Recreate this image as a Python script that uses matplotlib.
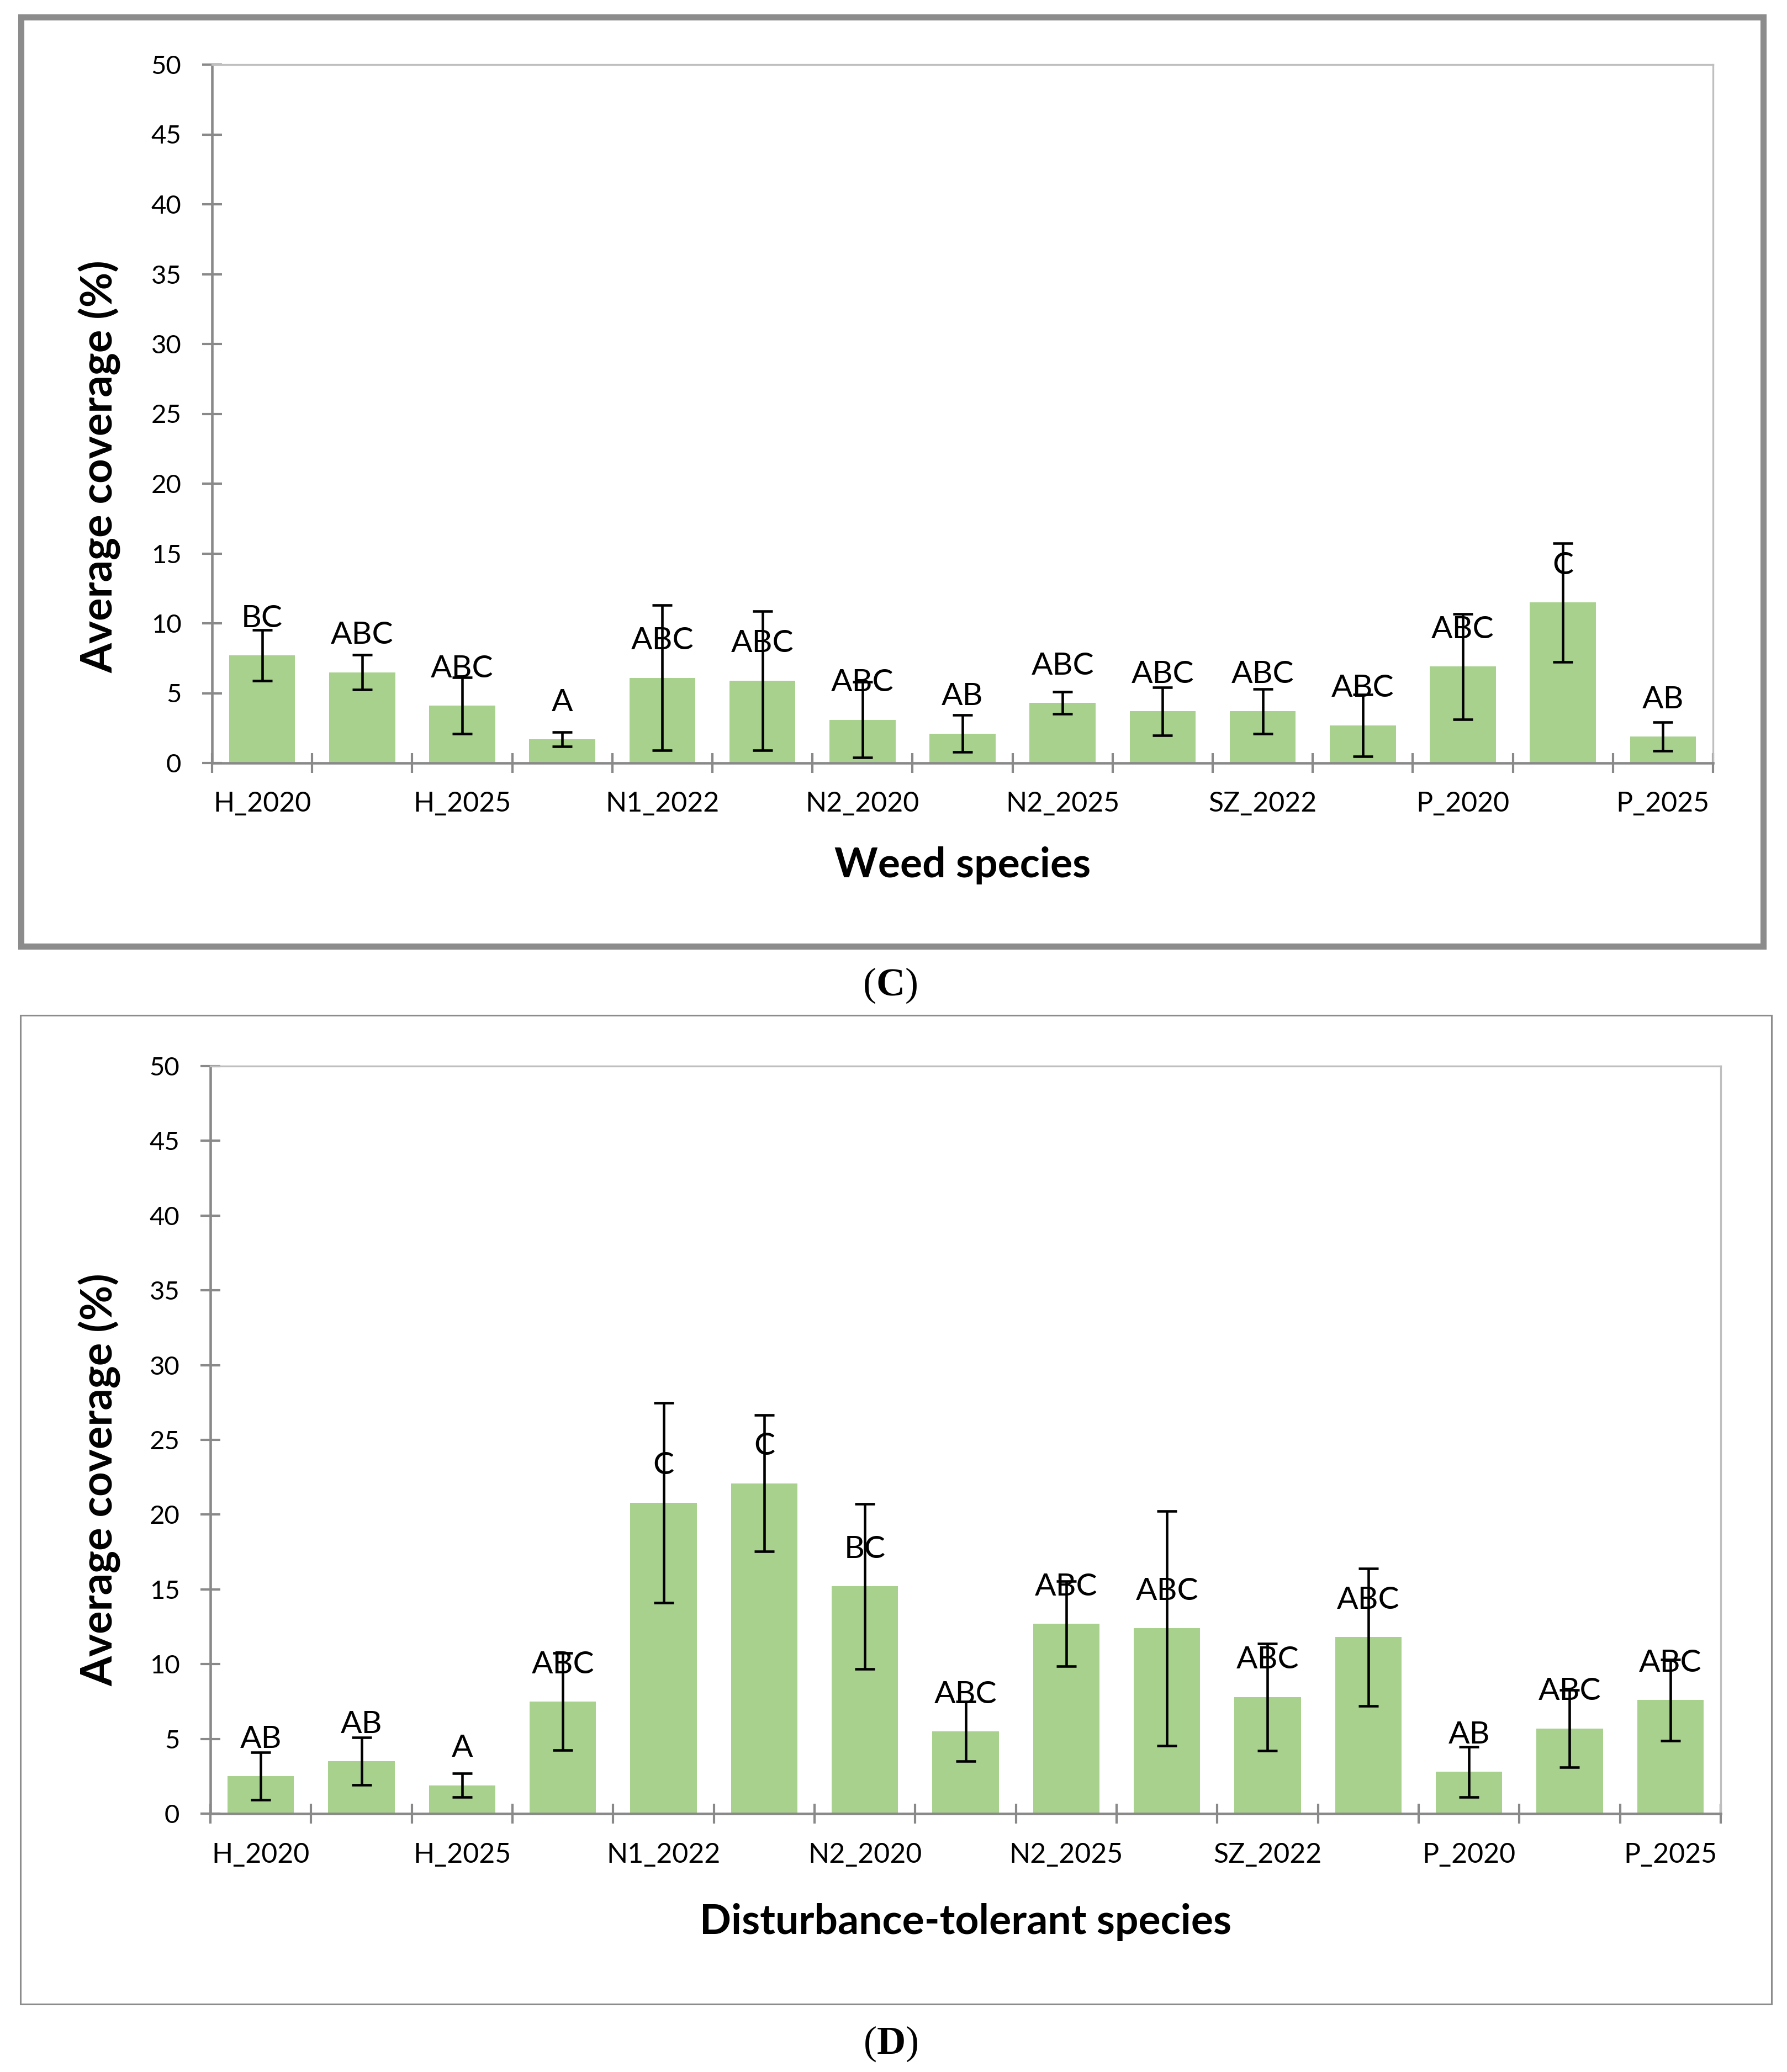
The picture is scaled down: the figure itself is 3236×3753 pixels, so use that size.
import numpy as np
import matplotlib
matplotlib.use("Agg")
import matplotlib.pyplot as plt
from matplotlib.patches import Rectangle

plt.rcParams['font.family'] = ['Lato', 'DejaVu Sans']
plt.rcParams['mathtext.fontset'] = 'custom'
plt.rcParams['mathtext.rm'] = 'Liberation Serif'
plt.rcParams['mathtext.bf'] = 'Liberation Serif:bold'

# data
categories = ['H_2020', 'H_2022', 'H_2025', 'N1_2020', 'N1_2022', 'N1_2025',
              'N2_2020', 'N2_2022', 'N2_2025', 'SZ_2020', 'SZ_2022', 'SZ_2025',
              'P_2020', 'P_2022', 'P_2025']

weed_mean = [7.7, 6.5, 4.1, 1.7, 6.1, 5.9, 3.1, 2.1, 4.3, 3.7, 3.7, 2.7, 6.9, 11.5, 1.9]
weed_err = [1.83, 1.26, 2.01, 0.53, 5.20, 4.98, 2.71, 1.32, 0.80, 1.72, 1.59, 2.22, 3.77, 4.25, 1.03]
weed_letters = ['BC', 'ABC', 'ABC', 'A', 'ABC', 'ABC', 'ABC', 'AB', 'ABC', 'ABC',
                'ABC', 'ABC', 'ABC', 'C', 'AB']

dist_mean = [2.5, 3.5, 1.9, 7.5, 20.8, 22.1, 15.2, 5.5, 12.7, 12.4, 7.8, 11.8, 2.8, 5.7, 7.6]
dist_err = [1.59, 1.59, 0.80, 3.26, 6.68, 4.55, 5.51, 2.00, 2.83, 7.85, 3.58, 4.61, 1.68, 2.58, 2.72]
dist_letters = ['AB', 'AB', 'A', 'ABC', 'C', 'C', 'BC', 'ABC', 'ABC', 'ABC',
                'ABC', 'ABC', 'AB', 'ABC', 'ABC']

W, H = 3237, 3753
DPI = 100
BAR = '#A9D18E'
AXGRAY = '#898989'
LIGHT = '#BFBFBF'

fig = plt.figure(figsize=(W / DPI, H / DPI), dpi=DPI)


def px_rect(x0, y0, x1, y1):
    return [x0 / W, 1 - y1 / H, (x1 - x0) / W, (y1 - y0) / H]


def panel(rect_px, means, errs, letters, xlabel, ylab_y, xlab_y, tick_y):
    x0, y0, x1, y1 = rect_px
    ax = fig.add_axes(px_rect(x0, y0, x1, y1))
    x = np.arange(len(categories))
    ax.bar(x, means, width=0.66, color=BAR, zorder=2)
    ax.errorbar(x, means, yerr=errs, fmt='none', ecolor='black',
                elinewidth=3.3, capsize=13, capthick=3.3, zorder=3)
    for xi, m, lab in zip(x, means, letters):
        ax.annotate(lab, xy=(xi, m), xytext=(0, 37), textcoords='offset points',
                    ha='center', va='baseline', fontsize=41, zorder=4)

    ax.set_xlim(-0.5, len(categories) - 0.5)
    ax.set_ylim(0, 50)
    ax.set_yticks(np.arange(0, 51, 5))
    ax.set_xticks(np.arange(-0.5, len(categories), 1))
    ax.set_xticklabels([])
    ax.tick_params(axis='both', which='major', direction='inout', length=26,
                   width=3, color=AXGRAY, labelsize=34, pad=27)
    ax.tick_params(axis='y', labelcolor='black')

    for xi in x[::2]:
        ax.text(xi, -(tick_y - y1) / (y1 - y0), categories[xi],
                transform=ax.get_xaxis_transform(), ha='center', va='center',
                fontsize=36)

    for side in ['left', 'bottom']:
        ax.spines[side].set_color(AXGRAY)
        ax.spines[side].set_linewidth(3.3)
    for side in ['top', 'right']:
        ax.spines[side].set_color(LIGHT)
        ax.spines[side].set_linewidth(2.4)

    fig.text((x0 + x1) / 2 / W, 1 - xlab_y / H, xlabel, ha='center', va='center',
             fontsize=54, fontweight='bold')
    fig.text(181 / W, 1 - ylab_y / H, 'Average coverage (%)', rotation=90,
             ha='center', va='center', fontsize=56, fontweight='bold')
    return ax


panel((384, 117, 3102, 1382), weed_mean, weed_err, weed_letters,
      'Weed species', 845, 1568, 1456)
panel((381, 1931, 3116, 3285), dist_mean, dist_err, dist_letters,
      'Disturbance-tolerant species', 2680, 3481, 3360)

# outer frames
fig.add_artist(Rectangle((38 / W, 1 - 1714 / H), (3193 - 38) / W, (1714 - 31) / H,
                         transform=fig.transFigure, fill=False,
                         edgecolor='#8C8C8C', linewidth=8))
fig.add_artist(Rectangle((37 / W, 1 - 3630 / H), (3208 - 37) / W, (3630 - 1839) / H,
                         transform=fig.transFigure, fill=False,
                         edgecolor='#8C8C8C', linewidth=2.2))

fig.text(1612 / W, 1 - 1785 / H, r'($\mathbf{C}$)', ha='center', va='center',
         fontsize=52, family='Liberation Serif')
fig.text(1613 / W, 1 - 3702 / H, r'($\mathbf{D}$)', ha='center', va='center',
         fontsize=52, family='Liberation Serif')

fig.savefig('out.png', dpi=DPI)
